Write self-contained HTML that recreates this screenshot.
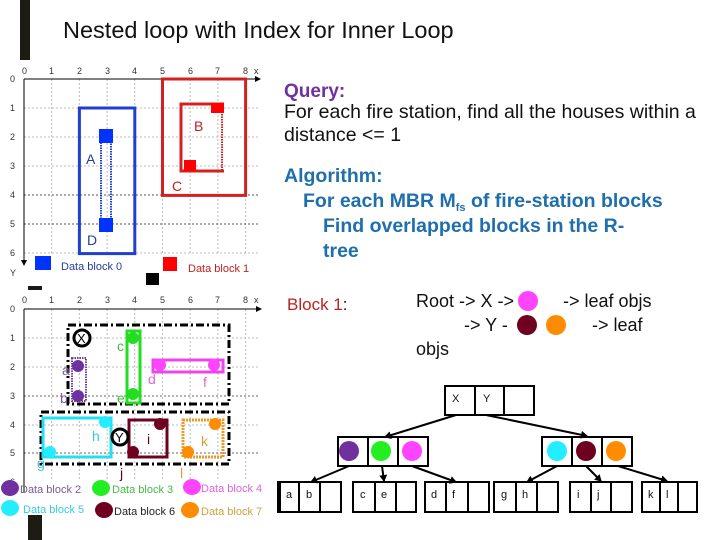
<!DOCTYPE html>
<html><head><meta charset="utf-8"><style>body{margin:0;background:#fff}svg{display:block}text{font-family:"Liberation Sans",sans-serif}</style></head><body>
<svg width="720" height="540" viewBox="0 0 720 540" xmlns="http://www.w3.org/2000/svg">
<defs><marker id="ar" markerWidth="8" markerHeight="8" refX="6" refY="4" orient="auto" markerUnits="userSpaceOnUse"><path d="M0,0 L7,4 L0,8 z" fill="#000"/></marker></defs>
<rect x="20" y="0" width="10" height="60" fill="#1c1c14"/>
<text x="63" y="38" font-size="23.5" fill="#111">Nested loop with Index for Inner Loop</text>
<!-- top grid -->
<g stroke="#bbb" stroke-dasharray="2,2" stroke-width="1">
<line x1="51.7" y1="79" x2="51.7" y2="254"/><line x1="79.4" y1="79" x2="79.4" y2="254"/><line x1="107.1" y1="79" x2="107.1" y2="254"/><line x1="134.8" y1="79" x2="134.8" y2="254"/><line x1="162.5" y1="79" x2="162.5" y2="254"/><line x1="190.2" y1="79" x2="190.2" y2="254"/><line x1="217.9" y1="79" x2="217.9" y2="254"/><line x1="245.6" y1="79" x2="245.6" y2="254"/>
<line x1="24" y1="108" x2="258" y2="108"/><line x1="24" y1="137" x2="258" y2="137"/><line x1="24" y1="166" x2="258" y2="166"/><line x1="24" y1="195" x2="258" y2="195" stroke="#555"/><line x1="24" y1="224" x2="258" y2="224" stroke="#555"/><line x1="24" y1="253" x2="258" y2="253"/>
</g>
<line x1="24" y1="79" x2="255" y2="79" stroke="#000"/><polygon points="255,76 261,79 255,82" fill="#000"/>
<line x1="24" y1="79" x2="24" y2="260" stroke="#000"/><polygon points="21,260 24,266 27,260" fill="#000"/>
<g font-size="9" fill="#333"><text x="22" y="74">0</text><text x="49" y="74">1</text><text x="77" y="74">2</text><text x="105" y="74">3</text><text x="132" y="74">4</text><text x="160" y="74">5</text><text x="188" y="74">6</text><text x="215" y="74">7</text><text x="243" y="74">8</text><text x="254" y="74">x</text>
<text x="10" y="82">0</text><text x="10" y="111">1</text><text x="10" y="140">2</text><text x="10" y="169">3</text><text x="10" y="198">4</text><text x="10" y="227">5</text><text x="10" y="256">6</text><text x="10" y="276">Y</text></g>
<rect x="79.4" y="108" width="55.4" height="145.6" fill="none" stroke="#1f3fd0" stroke-width="3"/>
<rect x="101" y="131" width="10" height="99" fill="none" stroke="#1f3fd0" stroke-width="2" stroke-dasharray="1.5,1"/>
<rect x="99" y="129" width="14" height="14" fill="#0033ff"/><rect x="99" y="218" width="14" height="14" fill="#0033ff"/>
<text x="86" y="164" font-size="14" fill="#2a3a9a">A</text><text x="87" y="245" font-size="14" fill="#2a3a9a">D</text>
<rect x="162.5" y="79" width="83.1" height="116.4" fill="none" stroke="#d42020" stroke-width="3"/>
<polyline points="224,104 181,104 181,171 224,171" fill="none" stroke="#d42020" stroke-width="3"/>
<line x1="222" y1="104" x2="222" y2="171" stroke="#d42020" stroke-width="2" stroke-dasharray="1.5,1"/>
<rect x="211" y="103" width="13" height="10" fill="#ff0000"/><rect x="184" y="160" width="12" height="11" fill="#ff0000"/>
<text x="194" y="131" font-size="14" fill="#c02020">B</text><text x="172" y="191" font-size="14" fill="#c02020">C</text>
<rect x="35" y="256" width="16" height="14" fill="#0033ff"/><text x="61" y="270" font-size="11" fill="#2a3a9a">Data block 0</text>
<rect x="163" y="257" width="14" height="14" fill="#ff0000"/><text x="188" y="272" font-size="11" fill="#c02020">Data block 1</text>
<rect x="146" y="273" width="13" height="12" fill="#000"/><rect x="28" y="286" width="14" height="4" fill="#1c1c14"/>
<!-- bottom grid -->
<g stroke="#bbb" stroke-dasharray="2,2">
<line x1="51.7" y1="309" x2="51.7" y2="480"/><line x1="79.4" y1="309" x2="79.4" y2="480"/><line x1="107.1" y1="309" x2="107.1" y2="480"/><line x1="134.8" y1="309" x2="134.8" y2="480"/><line x1="162.5" y1="309" x2="162.5" y2="480"/><line x1="190.2" y1="309" x2="190.2" y2="480"/><line x1="217.9" y1="309" x2="217.9" y2="480"/><line x1="245.6" y1="309" x2="245.6" y2="480"/>
<line x1="24" y1="338" x2="258" y2="338"/><line x1="24" y1="367" x2="258" y2="367"/><line x1="24" y1="396" x2="258" y2="396" stroke="#666"/><line x1="24" y1="425" x2="258" y2="425"/><line x1="24" y1="453" x2="258" y2="453" stroke="#666"/>
</g>
<line x1="24" y1="309" x2="256" y2="309" stroke="#000"/><polygon points="256,306 262,309 256,312" fill="#000"/>
<line x1="24" y1="309" x2="24" y2="492" stroke="#000"/>
<g font-size="9" fill="#333"><text x="22" y="303">0</text><text x="49" y="303">1</text><text x="77" y="303">2</text><text x="105" y="303">3</text><text x="132" y="303">4</text><text x="160" y="303">5</text><text x="188" y="303">6</text><text x="215" y="303">7</text><text x="243" y="303">8</text><text x="254" y="303">x</text>
<text x="10" y="312">0</text><text x="10" y="341">1</text><text x="10" y="370">2</text><text x="10" y="399">3</text><text x="10" y="428">4</text><text x="10" y="456">5</text><text x="10" y="485">6</text></g>
<rect x="68" y="325" width="161" height="79" fill="none" stroke="#000" stroke-width="3" stroke-dasharray="8,3,2,3"/>
<rect x="41" y="412" width="188" height="52" fill="none" stroke="#000" stroke-width="3" stroke-dasharray="8,3,2,3"/>
<circle cx="82" cy="338" r="8" fill="#fff" stroke="#000" stroke-width="3"/><text x="77" y="343" font-size="13">X</text>
<rect x="72" y="358" width="14" height="43" fill="none" stroke="#7040a0" stroke-width="2" stroke-dasharray="1.5,1"/>
<circle cx="78" cy="366" r="6" fill="#7030a0"/><circle cx="78" cy="396" r="6" fill="#7030a0"/>
<text x="62" y="375" font-size="14" fill="#7a5a9a">a</text><text x="60" y="403" font-size="14" fill="#7a5a9a">b</text>
<rect x="127" y="331" width="13" height="72" fill="none" stroke="#22dd22" stroke-width="3"/>
<circle cx="133" cy="338" r="6" fill="#22dd22"/><circle cx="133" cy="394" r="6" fill="#22dd22"/>
<text x="117" y="351" font-size="14" fill="#44bb44">c</text><text x="117" y="403" font-size="14" fill="#44bb44">e</text>
<rect x="153" y="360" width="70" height="12" fill="none" stroke="#ee44ee" stroke-width="3"/>
<circle cx="160" cy="365" r="6" fill="#ff44ff"/><circle cx="214" cy="365" r="6" fill="#ff44ff"/>
<text x="148" y="384" font-size="14" fill="#dd66dd">d</text><text x="203" y="387" font-size="14" fill="#dd66dd">f</text>
<rect x="43" y="418" width="68" height="39" fill="none" stroke="#22e0f0" stroke-width="3"/>
<circle cx="105" cy="422" r="6" fill="#22eeff"/><circle cx="50" cy="452" r="6" fill="#22eeff"/>
<text x="92" y="441" font-size="14" fill="#33ccdd">h</text><text x="37" y="468" font-size="14" fill="#33ccdd">g</text>
<rect x="129" y="420" width="38" height="37" fill="none" stroke="#700020" stroke-width="3"/>
<circle cx="160" cy="424" r="6" fill="#700020"/><circle cx="133" cy="452" r="6" fill="#700020"/>
<text x="147" y="444" font-size="14" fill="#600020">i</text><text x="120" y="478" font-size="14" fill="#600020">j</text>
<rect x="183" y="420" width="40" height="37" fill="none" stroke="#ee9922" stroke-width="3" stroke-dasharray="2,1"/>
<circle cx="215" cy="424" r="6" fill="#ff8c00"/><circle cx="188" cy="452" r="6" fill="#ff8c00"/>
<text x="201" y="446" font-size="14" fill="#d0a040">k</text><text x="180" y="478" font-size="14" fill="#d0a040">l</text>
<circle cx="120" cy="437" r="8" fill="#fff" stroke="#000" stroke-width="3"/><text x="115" y="442" font-size="13">Y</text>
<g font-size="11">
<ellipse cx="10" cy="488" rx="9" ry="8" fill="#7030a0"/><text x="20" y="493" fill="#7a5a9a">Data block 2</text>
<ellipse cx="101" cy="488" rx="9" ry="8" fill="#22ee22"/><text x="112" y="493" fill="#44bb44">Data block 3</text>
<ellipse cx="192" cy="487" rx="9" ry="8" fill="#ff44ff"/><text x="201" y="492" fill="#dd66dd">Data block 4</text>
<ellipse cx="10" cy="508" rx="9" ry="8" fill="#22eeff"/><text x="23" y="513" fill="#33ccdd">Data block 5</text>
<ellipse cx="104" cy="510" rx="9" ry="8" fill="#700020"/><text x="114" y="515" fill="#222">Data block 6</text>
<ellipse cx="190" cy="510" rx="9" ry="8" fill="#ff8c00"/><text x="201" y="515" fill="#d0a040">Data block 7</text>
</g>
<rect x="28" y="515" width="14" height="25" fill="#1c1c14"/>
<polyline points="283,482 278,482 278,512 283,512" fill="none" stroke="#000" stroke-width="2"/>
<!-- right text -->
<text x="284" y="97" font-size="19" font-weight="bold" fill="#7030a0">Query:</text>
<text x="284" y="118" font-size="19.5" fill="#111">For each fire station, find all the houses within a</text>
<text x="284" y="141" font-size="19.5" fill="#111">distance &lt;= 1</text>
<g font-size="19.5" font-weight="bold" fill="#1f6fad">
<text x="284" y="182">Algorithm:</text>
<text x="303" y="207">For each MBR M<tspan font-size="11" dy="4">fs</tspan><tspan dy="-4"> of fire-station blocks</tspan></text>
<text x="323" y="232">Find overlapped blocks in the R-</text>
<text x="323" y="257">tree</text></g>
<text x="287" y="310" font-size="17" fill="#c02020">Block 1<tspan fill="#111">:</tspan></text>
<g font-size="18" fill="#111">
<text x="416" y="307">Root -&gt; X -&gt;</text><text x="563" y="307">-&gt; leaf objs</text>
<text x="464" y="331">-&gt; Y -</text><text x="592" y="331">-&gt; leaf</text>
<text x="416" y="355">objs</text></g>
<circle cx="528" cy="301" r="10" fill="#ff44ff"/><circle cx="527" cy="325" r="10" fill="#700020"/><circle cx="556" cy="325" r="10" fill="#ff8c00"/>
<!-- tree -->
<g fill="none" stroke="#000" stroke-width="2">
<rect x="445" y="386" width="89" height="29"/><line x1="475" y1="386" x2="475" y2="415"/><line x1="504" y1="386" x2="504" y2="415"/>
<rect x="338" y="437" width="90" height="29"/><line x1="368" y1="437" x2="368" y2="466"/><line x1="398" y1="437" x2="398" y2="466"/>
<rect x="542" y="437" width="90" height="29"/><line x1="572" y1="437" x2="572" y2="466"/><line x1="602" y1="437" x2="602" y2="466"/>
<rect x="280" y="482" width="61" height="30"/><line x1="299" y1="482" x2="299" y2="512"/><line x1="320" y1="482" x2="320" y2="512"/>
<rect x="353" y="482" width="63" height="30"/><line x1="375" y1="482" x2="375" y2="512"/><line x1="396" y1="482" x2="396" y2="512"/>
<rect x="425" y="482" width="64" height="30"/><line x1="446" y1="482" x2="446" y2="512"/><line x1="468" y1="482" x2="468" y2="512"/>
<rect x="494" y="482" width="64" height="30"/><line x1="516" y1="482" x2="516" y2="512"/><line x1="537" y1="482" x2="537" y2="512"/>
<rect x="570" y="482" width="62" height="30"/><line x1="591" y1="482" x2="591" y2="512"/><line x1="611" y1="482" x2="611" y2="512"/>
<rect x="642" y="482" width="55" height="30"/><line x1="660" y1="482" x2="660" y2="512"/><line x1="678" y1="482" x2="678" y2="512"/>
</g>
<g stroke="#000" stroke-width="2" marker-end="url(#ar)">
<line x1="456" y1="415" x2="385" y2="437"/><line x1="486" y1="415" x2="587" y2="436"/>
<line x1="349" y1="466" x2="311" y2="482"/><line x1="382" y1="466" x2="384" y2="481"/><line x1="412" y1="466" x2="456" y2="482"/>
<line x1="557" y1="466" x2="527" y2="482"/><line x1="586" y1="466" x2="601" y2="481"/><line x1="618" y1="466" x2="667" y2="481"/>
</g>
<circle cx="349" cy="451" r="10" fill="#7030a0"/><circle cx="381" cy="451" r="10" fill="#22ee22"/><circle cx="412" cy="451" r="10" fill="#ff44ff"/>
<circle cx="557" cy="451" r="10" fill="#22eeff"/><circle cx="586" cy="451" r="10" fill="#700020"/><circle cx="616" cy="451" r="10" fill="#ff8c00"/>
<g font-size="11" fill="#111">
<text x="452" y="402">X</text><text x="483" y="402">Y</text>
<text x="286" y="498">a</text><text x="306" y="498">b</text><text x="360" y="498">c</text><text x="381" y="498">e</text>
<text x="431" y="498">d</text><text x="452" y="498">f</text><text x="501" y="498">g</text><text x="522" y="498">h</text>
<text x="577" y="498">i</text><text x="597" y="498">j</text><text x="648" y="498">k</text><text x="666" y="498">l</text></g>
</svg>
</body></html>
